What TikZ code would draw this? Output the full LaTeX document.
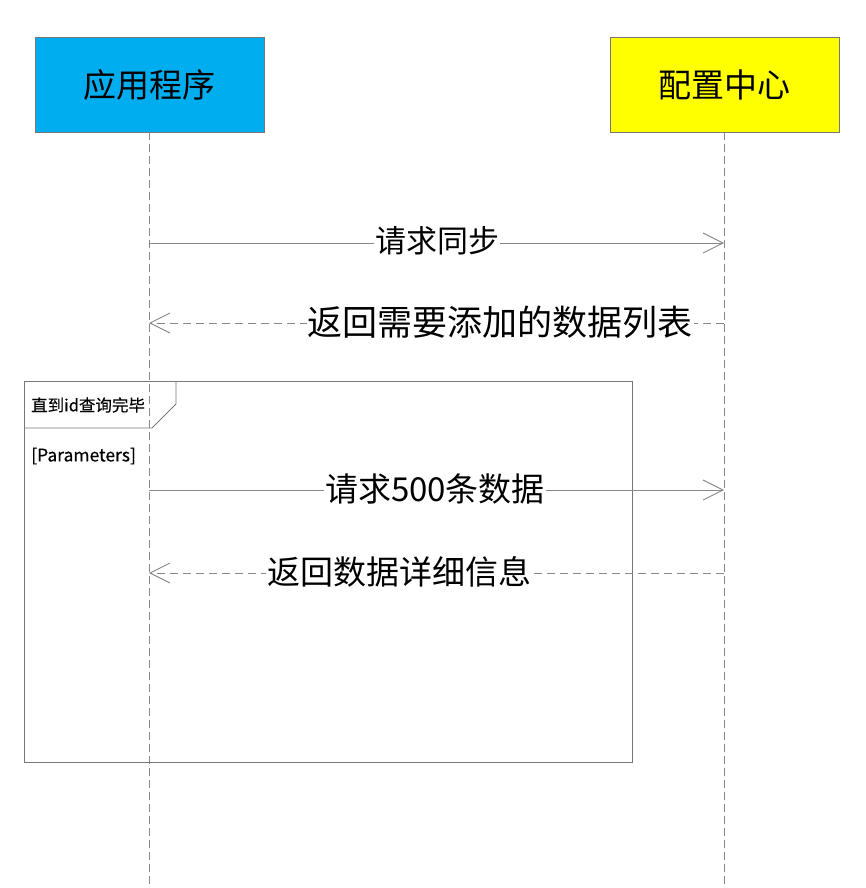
\documentclass[tikz,border=0pt]{standalone}
\usepackage{fontspec}
\setmainfont{Noto Sans CJK SC}
\newfontfamily\cjk{Noto Sans CJK SC}
\newfontfamily\cjkmed[FakeBold=0.4]{Noto Sans CJK SC}
\usetikzlibrary{arrows.meta}
\definecolor{boxblue}{HTML}{00AEEF}
\definecolor{boxyellow}{HTML}{FFFF00}
\definecolor{linegray}{HTML}{888888}
\definecolor{framegray}{HTML}{777777}
\tikzset{
  actor/.style={draw=framegray, line width=0.9pt, minimum width=229pt, minimum height=95pt, inner sep=0pt, font=\cjk\fontsize{33}{36}\selectfont},
  lifeline/.style={draw=linegray, line width=0.9pt, dash pattern=on 8pt off 4pt},
  call/.style={draw=linegray, line width=0.9pt, -{Straight Barb[length=20pt,width=20pt,line width=0.9pt]}},
  reply/.style={draw=linegray, line width=0.9pt, dash pattern=on 8pt off 5pt, -{Straight Barb[length=20pt,width=20pt,line width=0.9pt]}},
  msglabel/.style={fill=white, inner sep=1pt, font=\cjk\fontsize{31}{34}\selectfont},
  framebox/.style={draw=framegray, line width=0.9pt},
  smalltext/.style={inner sep=0pt, anchor=west, font=\cjkmed\fontsize{16.5}{19}\selectfont}
}
\begin{document}
\begin{tikzpicture}[x=1pt,y=-1pt]
\useasboundingbox (0,0) rectangle (865,888);
% actors
\node[actor, fill=boxblue] (app) at (149.5,84.5) {应用程序};
\node[actor, fill=boxyellow] (cfg) at (724.5,84.5) {配置中心};
% lifeline ends
\coordinate (append) at (149,888);
\coordinate (cfgend) at (724,888);
\draw[lifeline] (app.south -| append) -- (append);
\draw[lifeline] (cfg.south -| cfgend) -- (cfgend);
% loop frame
\draw[framebox] (24,381) rectangle (632,762);
\draw[framebox] (24,428) -- (152,428) -- (176,404) -- (176,381);
\node[smalltext] (looplabel) at (31,405) {直到id查询完毕};
\node[smalltext, font=\cjkmed\fontsize{17.5}{20}\selectfont] (param) at (31,456) {[Parameters]};
% messages
\coordinate (a1) at (149,243); \coordinate (c1) at (724,243);
\coordinate (a2) at (149,323); \coordinate (c2) at (724,323);
\coordinate (a3) at (149,490); \coordinate (c3) at (724,490);
\coordinate (a4) at (149,573); \coordinate (c4) at (724,573);
\draw[call] (a1) -- (c1);
\node[msglabel] (m1) at (437,241) {请求同步};
\draw[reply] (c2) -- (a2);
\node[msglabel, font=\cjk\fontsize{35}{38}\selectfont] (m2) at (500,322) {返回需要添加的数据列表};
\draw[call] (a3) -- (c3);
\node[msglabel, font=\cjk\fontsize{33}{36}\selectfont] (m3) at (435,489) {请求500条数据};
\draw[reply] (c4) -- (a4);
\node[msglabel, font=\cjk\fontsize{33}{36}\selectfont] (m4) at (399,572) {返回数据详细信息};
\end{tikzpicture}
\end{document}
